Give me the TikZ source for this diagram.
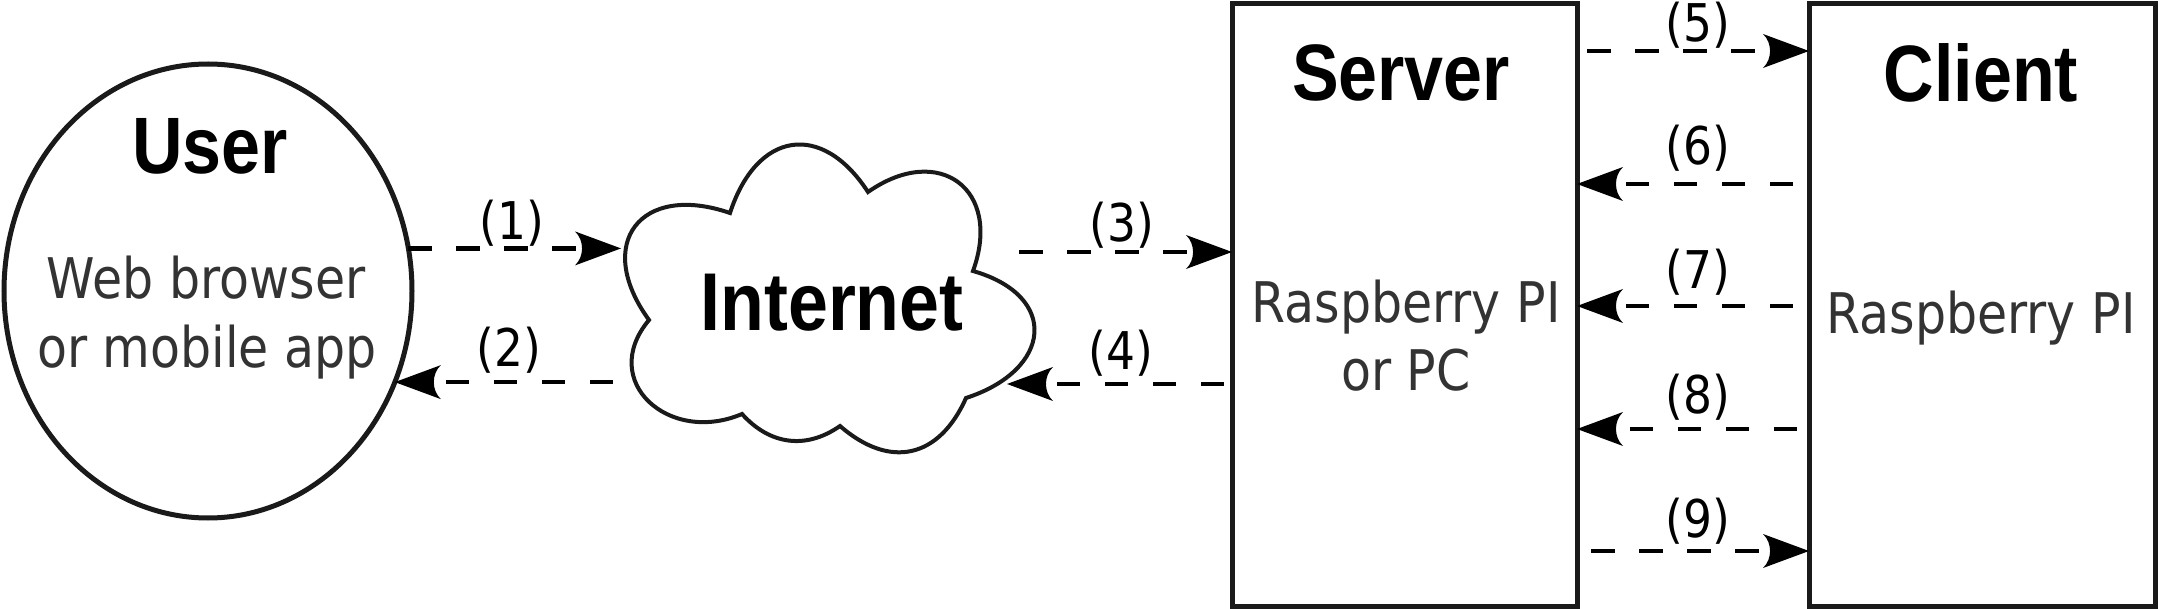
\documentclass[tikz,border=0pt]{standalone}
\usepackage{fontspec}
\usetikzlibrary{arrows.meta,shapes.geometric}
\newfontfamily\titlefont{Liberation Sans}[FakeStretch=0.875]
\newfontfamily\bodyfont{DejaVu Sans}[FakeStretch=0.875]
\definecolor{ink}{HTML}{1A1A1A}
\definecolor{txt}{HTML}{333333}
\pgfdeclarearrow{
  name = Classic,
  setup code = {
    \pgfarrowssettipend{0pt}
    \pgfarrowssetlineend{-18pt}
    \pgfarrowssetbackend{-23pt}
    \pgfarrowshullpoint{0pt}{0pt}
    \pgfarrowshullpoint{-23pt}{8.5pt}
    \pgfarrowshullpoint{-23pt}{-8.5pt}
  },
  drawing code = {
    \pgfpathmoveto{\pgfpointorigin}
    \pgfpathlineto{\pgfpoint{-23pt}{8.5pt}}
    \pgfpathcurveto{\pgfpoint{-18.3pt}{4pt}}{\pgfpoint{-18.3pt}{-4pt}}{\pgfpoint{-23pt}{-8.5pt}}
    \pgfpathclose
    \pgfusepathqfill
  }
}
\tikzset{
  shapeline/.style={draw=ink, line width=2.5pt, fill=white, outer sep=0pt, inner sep=0pt},
  cloudline/.style={draw=ink, line width=2pt, fill=white, line join=miter},
  title/.style={font=\titlefont\bfseries\fontsize{40}{40}\selectfont, text=black, inner sep=0pt, anchor=base},
  bodytxt/.style={font=\bodyfont\fontsize{28}{34}\selectfont, text=txt, inner sep=0pt, anchor=base},
  lbl/.style={font=\bodyfont\fontsize{26}{26}\selectfont, text=black, inner sep=0pt, anchor=center},
  flow/.style={draw=black, line width=2.3pt, dash pattern=on 11.75pt off 12.25pt, -{Classic}}
}
\begin{document}
\begin{tikzpicture}[x=0.5pt,y=0.5pt]
\useasboundingbox (0,0) rectangle (2158,-609);
% shapes
\node[shapeline, ellipse, minimum width=204pt, minimum height=227pt] (user) at (208,-291) {};
\node[shapeline, rectangle, minimum width=172.5pt, minimum height=301pt] (server) at (1404.5,-305) {};
\node[shapeline, rectangle, minimum width=173pt, minimum height=301pt] (client) at (1982,-305) {};
\draw[cloudline] (649,-320)
  to[out=126,in=161,looseness=1.8] (730,-213)
  to[out=72,in=123,looseness=1.57] (868,-192)
  to[out=35,in=70,looseness=1.69] (973,-271)
  to[out=-16,in=18,looseness=1.82] (966,-398)
  to[out=-114,in=-41,looseness=1.31] (840,-426)
  to[out=-145,in=-48,looseness=1.08] (742,-414)
  to[out=-157,in=-130,looseness=1.54] (649,-320) -- cycle;
\coordinate (netL) at (621,-250);
\coordinate (netR) at (1007,-384);
% texts
\node[title] (usert) at (210,-174) {User};
\node[bodytxt] (userb1) at (206,-299) {Web browser};
\node[bodytxt] (userb2) at (207,-367) {or mobile app};
\node[title, font=\titlefont\bfseries\fontsize{41}{41}\selectfont] (net) at (832,-330) {Internet};
\node[title] (servert) at (1401,-101) {Server};
\node[bodytxt] (serverb1) at (1406,-322) {Raspberry PI};
\node[bodytxt] (serverb2) at (1406,-390) {or PC};
\node[title] (clientt) at (1981,-102) {Client};
\node[bodytxt] (clientb) at (1981,-334) {Raspberry PI};
% free ends of connectors
\coordinate (a2s) at (613,-383);
\coordinate (a3s) at (1019,-252);
\coordinate (a4s) at (1224,-384);
\coordinate (a5s) at (1587,-51);
\coordinate (a6s) at (1793,-184);
\coordinate (a7s) at (1793,-306);
\coordinate (a8s) at (1797,-429);
\coordinate (a9s) at (1591,-551);
% connectors
\draw[flow] (user.12) -- (user.12 -| netL);
\draw[flow] (user.-26 -| a2s) -- (user.-26);
\draw[flow] (a3s) -- (a3s -| server.west);
\draw[flow] (a4s) -- (a4s -| netR);
\draw[flow] (a5s) -- (a5s -| client.west);
\draw[flow] (a6s) -- (a6s -| server.east);
\draw[flow] (a7s) -- (a7s -| server.east);
\draw[flow] (a8s) -- (a8s -| server.east);
\draw[flow] (a9s) -- (a9s -| client.west);
% labels
\node[lbl] (l1) at (512,-223.5) {(1)};
\node[lbl] (l2) at (509,-350.5) {(2)};
\node[lbl] (l3) at (1122,-225.5) {(3)};
\node[lbl] (l4) at (1121,-353.5) {(4)};
\node[lbl] (l5) at (1698,-25.5) {(5)};
\node[lbl] (l6) at (1698,-148.5) {(6)};
\node[lbl] (l7) at (1698,-272.5) {(7)};
\node[lbl] (l8) at (1698,-397) {(8)};
\node[lbl] (l9) at (1698,-521.5) {(9)};
\end{tikzpicture}
\end{document}
